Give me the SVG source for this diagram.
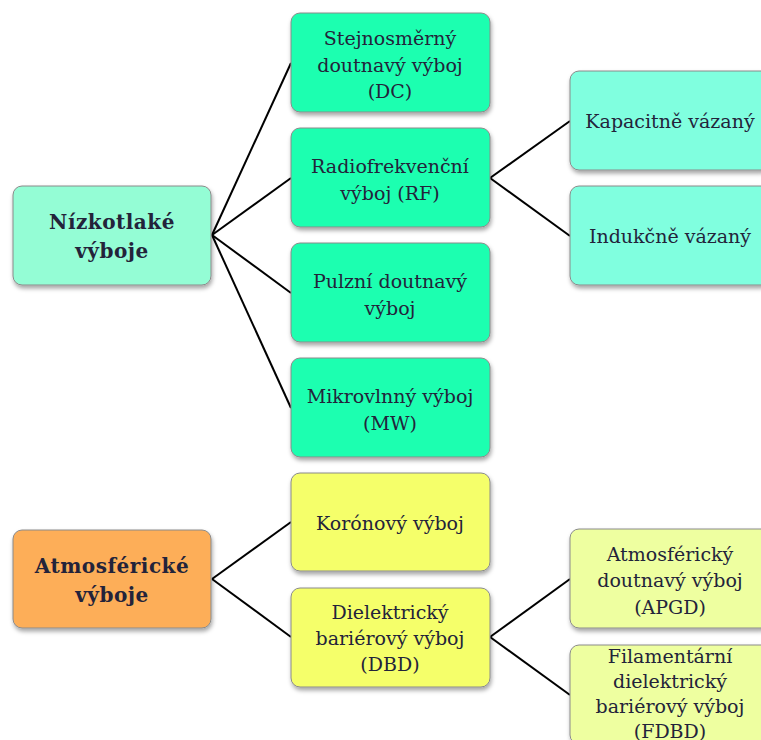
<svg xmlns="http://www.w3.org/2000/svg" width="761" height="740" viewBox="0 0 761 740" font-family="DejaVu Serif, serif">
<defs>
<filter id="sh" x="-10%" y="-10%" width="120%" height="130%">
<feDropShadow dx="1" dy="3" stdDeviation="2" flood-color="#000" flood-opacity="0.35"/>
</filter>
<style>
rect{stroke:#8a8a8a;stroke-width:1;filter:url(#sh)}
.lt{fill:#94fdd5}
.g{fill:#1dffb0}
.aq{fill:#80ffdf}
.or{fill:#fdae59}
.y{fill:#f5ff6b}
.ly{fill:#eeffa0}
text{font-size:19px;fill:#23233a;text-anchor:middle}
.b{font-weight:bold;letter-spacing:0.5px;font-size:20px}
#connectors line{stroke:#000;stroke-width:2}
</style>
</defs>
<rect width="761" height="740" fill="#fff" style="filter:none;stroke:none"/>
<g id="connectors">
<line x1="212" y1="235" x2="291" y2="63"/>
<line x1="212" y1="235" x2="291" y2="178"/>
<line x1="212" y1="235" x2="291" y2="293"/>
<line x1="212" y1="235" x2="291" y2="408"/>
<line x1="490" y1="178" x2="570" y2="121"/>
<line x1="490" y1="178" x2="570" y2="236"/>
<line x1="212" y1="579" x2="291" y2="522"/>
<line x1="212" y1="579" x2="291" y2="637"/>
<line x1="490" y1="637" x2="570" y2="579"/>
<line x1="490" y1="637" x2="570" y2="695"/>
</g>
<g id="nizkotlake">
<rect class="lt" x="13" y="186" width="198" height="99" rx="9"/>
<text class="b" x="112" y="229">Nízkotlaké</text>
<text class="b" x="112" y="258">výboje</text>
</g>
<g id="dc">
<rect class="g" x="291" y="13" width="199" height="99" rx="9"/>
<text x="390" y="45">Stejnosměrný</text>
<text x="390" y="72">doutnavý výboj</text>
<text x="390" y="98">(DC)</text>
</g>
<g id="rf">
<rect class="g" x="291" y="128" width="199" height="99" rx="9"/>
<text x="390" y="173">Radiofrekvenční</text>
<text x="390" y="200">výboj (RF)</text>
</g>
<g id="pulzni">
<rect class="g" x="291" y="243" width="199" height="99" rx="9"/>
<text x="390" y="288">Pulzní doutnavý</text>
<text x="390" y="315">výboj</text>
</g>
<g id="mw">
<rect class="g" x="291" y="358" width="199" height="99" rx="9"/>
<text x="390" y="403">Mikrovlnný výboj</text>
<text x="390" y="430">(MW)</text>
</g>
<g id="kapacitne">
<rect class="aq" x="570" y="71" width="200" height="99" rx="9"/>
<text x="670" y="128">Kapacitně vázaný</text>
</g>
<g id="indukcne">
<rect class="aq" x="570" y="186" width="200" height="99" rx="9"/>
<text x="670" y="243">Indukčně vázaný</text>
</g>
<g id="atmosfericke">
<rect class="or" x="13" y="530" width="198" height="98" rx="9"/>
<text class="b" x="112" y="573">Atmosférické</text>
<text class="b" x="112" y="602">výboje</text>
</g>
<g id="koronovy">
<rect class="y" x="291" y="473" width="199" height="98" rx="9"/>
<text x="390" y="530">Korónový výboj</text>
</g>
<g id="dbd">
<rect class="y" x="291" y="588" width="199" height="99" rx="9"/>
<text x="390" y="619">Dielektrický</text>
<text x="390" y="645">bariérový výboj</text>
<text x="390" y="671">(DBD)</text>
</g>
<g id="apgd">
<rect class="ly" x="570" y="529" width="200" height="99" rx="9"/>
<text x="670" y="561">Atmosférický</text>
<text x="670" y="587">doutnavý výboj</text>
<text x="670" y="614">(APGD)</text>
</g>
<g id="fdbd">
<rect class="ly" x="570" y="645" width="200" height="99" rx="9"/>
<text x="670" y="663">Filamentární</text>
<text x="670" y="688">dielektrický</text>
<text x="670" y="713">bariérový výboj</text>
<text x="670" y="738">(FDBD)</text>
</g>
</svg>
